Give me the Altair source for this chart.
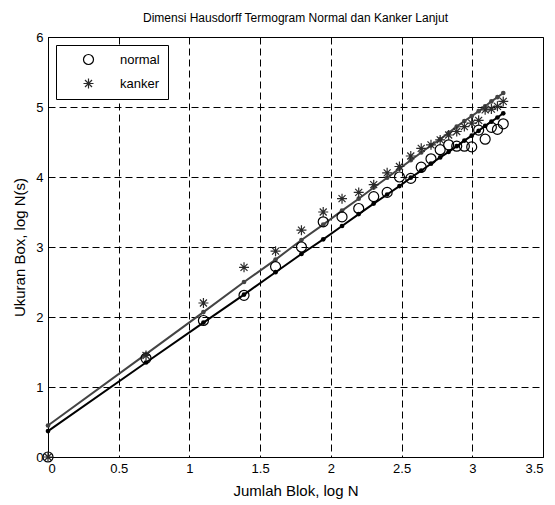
import altair as alt
import pandas as pd

# log N for N = 1..25
log_n = [0.000, 0.693, 1.099, 1.386, 1.609, 1.792, 1.946, 2.079, 2.197, 2.303,
         2.398, 2.485, 2.565, 2.639, 2.708, 2.773, 2.833, 2.890, 2.944, 2.996,
         3.045, 3.091, 3.135, 3.178, 3.219]

normal_pts = [0.00, 1.41, 1.95, 2.31, 2.72, 3.00, 3.36, 3.43, 3.55, 3.72,
              3.78, 4.00, 3.98, 4.14, 4.26, 4.39, 4.46, 4.44, 4.44, 4.43,
              4.67, 4.54, 4.71, 4.68, 4.76]
kanker_pts = [0.00, 1.45, 2.20, 2.71, 2.94, 3.24, 3.50, 3.69, 3.78, 3.89,
              4.06, 4.15, 4.30, 4.41, 4.46, 4.53, 4.60, 4.65, 4.72, 4.77,
              4.81, 4.96, 4.97, 5.01, 5.08]

normal_fit = [0.37, 1.35, 1.92, 2.32, 2.64, 2.90, 3.11, 3.30, 3.47, 3.62,
              3.75, 3.87, 3.99, 4.09, 4.19, 4.28, 4.36, 4.44, 4.52, 4.59,
              4.66, 4.73, 4.79, 4.85, 4.91]
kanker_fit = [0.45, 1.47, 2.07, 2.50, 2.82, 3.10, 3.32, 3.52, 3.69, 3.85,
              3.99, 4.12, 4.24, 4.35, 4.45, 4.54, 4.63, 4.72, 4.80, 4.87,
              4.94, 5.01, 5.08, 5.14, 5.20]

series_names = ["normal", "kanker"]
x_ticks = [0, 0.5, 1, 1.5, 2, 2.5, 3, 3.5]
y_ticks = [0, 1, 2, 3, 4, 5, 6]

FONT = "Liberation Sans"
STAR = "M-1,0L1,0M0,-1L0,1M-0.7,-0.7L0.7,0.7M-0.7,0.7L0.7,-0.7"

pts = pd.DataFrame({
    "x": log_n + log_n,
    "y": normal_pts + kanker_pts,
    "series": ["normal"] * len(log_n) + ["kanker"] * len(log_n),
})
fit_n = pd.DataFrame({"x": log_n, "y": normal_fit})
fit_k = pd.DataFrame({"x": log_n, "y": kanker_fit})

xs = alt.Scale(domain=[0, 3.5], nice=False, zero=False)
ys = alt.Scale(domain=[0, 6], nice=False, zero=False)

xax = alt.Axis(values=x_ticks, title="Jumlah Blok, log N", format="~g",
               labelPadding=5, titlePadding=8)
yax = alt.Axis(values=y_ticks, title="Ukuran Box, log N(s)", format="~g",
               labelPadding=5, titlePadding=8)

X = alt.X("x:Q", scale=xs, axis=xax)
Y = alt.Y("y:Q", scale=ys, axis=yax)

def fit_layers(df, color):
    line = alt.Chart(df).mark_line(color=color, strokeWidth=2).encode(x=X, y=Y)
    dots = alt.Chart(df).mark_circle(color=color, size=22, opacity=1).encode(x=X, y=Y)
    return line + dots

points = alt.Chart(pts).mark_point(filled=False, size=100, strokeWidth=1.2, opacity=1).encode(
    x=X, y=Y,
    shape=alt.Shape("series:N", scale=alt.Scale(domain=series_names, range=["circle", STAR]),
                    legend=alt.Legend(title=None)),
    color=alt.Color("series:N", scale=alt.Scale(domain=series_names, range=["#000000", "#2a2a2a"]),
                    legend=alt.Legend(title=None)),
)

chart = alt.layer(
    fit_layers(fit_k, "#444444"),
    fit_layers(fit_n, "#000000"),
    points,
).properties(
    width=495, height=420,
    title=alt.Title("Dimensi Hausdorff Termogram Normal dan Kanker Lanjut",
                    fontSize=12, font=FONT, fontWeight="normal", color="#000", offset=6),
    autosize=alt.AutoSizeParams(type="none"),
    padding={"left": 40, "top": 29, "right": 4, "bottom": 48},
).configure_view(
    stroke="#000", strokeWidth=1
).configure_axis(
    grid=True, gridColor="#000", gridDash=[7, 4], gridOpacity=1, gridWidth=1,
    domainColor="#000", tickSize=0,
    labelFont=FONT, labelFontSize=13, labelColor="#000",
    titleFont=FONT, titleFontSize=15, titleFontWeight="normal", titleColor="#000",
).configure_legend(
    orient="none", legendX=8, legendY=8,
    strokeColor="#000", fillColor="#fff", padding=8, cornerRadius=0,
    labelFont=FONT, labelFontSize=13, labelColor="#000",
    symbolSize=100, symbolStrokeWidth=1.2, symbolOffset=18, labelOffset=25, rowPadding=9,
)

chart.save("out.html", embed_options={"renderer": "svg", "actions": False})
